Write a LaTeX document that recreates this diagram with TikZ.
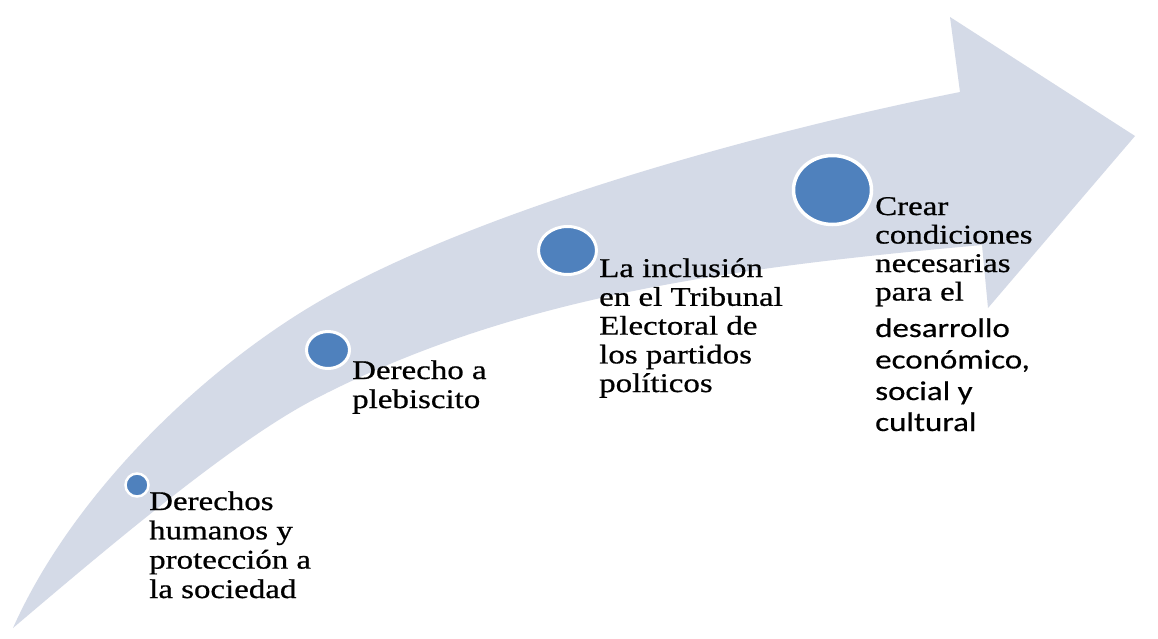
\documentclass[tikz,border=0pt]{standalone}
\usepackage{fontspec}
\setmainfont[FakeStretch=1.22,FakeBold=0.7]{Liberation Serif}
\newfontfamily\sansf[FakeStretch=1.22,FakeBold=0.4]{Carlito}
\definecolor{band}{HTML}{D4DAE7}
\definecolor{dot}{HTML}{4F81BD}
\usetikzlibrary{shapes.geometric}
\begin{document}
\begin{tikzpicture}[x=1pt,y=-1pt,
  dotnode/.style={ellipse, fill=dot, draw=white, line width=3pt, inner sep=0pt},
  lbl/.style={anchor=base west, inner sep=0pt, font=\fontsize{27}{29}\selectfont, text=black},
  slbl/.style={lbl, font=\fontsize{27}{29}\sansf}]
\useasboundingbox (0,0) rectangle (1158,638);
\fill[white] (0,0) rectangle (1158,638);
% curved arrow
\fill[band] (13,628) .. controls (70,500) and (190,382) .. (300,313)
  .. controls (450,218.5) and (740,136) .. (960,92)
  -- (950,17) -- (1135,136) -- (988,308) -- (982,245)
  .. controls (732,267.5) and (513,296) .. (313,400)
  .. controls (233,442) and (113,543) .. (13,628) -- cycle;
% dots
\node[dotnode, minimum width=23pt, minimum height=23pt, line width=2.5pt] (c1) at (137,485) {};
\node[dotnode, minimum width=43pt, minimum height=37pt] (c2) at (328,350) {};
\node[dotnode, minimum width=58pt, minimum height=48pt] (c3) at (567.5,250.5) {};
\node[dotnode, minimum width=78pt, minimum height=69pt, line width=3.5pt] (c4) at (832.5,190) {};
% text 1
\node[lbl] (t1a) at (149,510) {Derechos};
\node[lbl] (t1b) at (149,539.3) {humanos y};
\node[lbl] (t1c) at (149,568.6) {protección a};
\node[lbl] (t1d) at (149,598) {la sociedad};
% text 2
\node[lbl] (t2a) at (352,379) {Derecho a};
\node[lbl] (t2b) at (352,408) {plebiscito};
% text 3
\node[lbl] (t3a) at (599,277) {La inclusión};
\node[lbl] (t3b) at (599,305.8) {en el Tribunal};
\node[lbl] (t3c) at (599,334.6) {Electoral de};
\node[lbl] (t3d) at (599,363.4) {los partidos};
\node[lbl] (t3e) at (599,392) {políticos};
% text 4
\node[lbl] (t4a) at (875,215) {Crear};
\node[lbl] (t4b) at (875,243.5) {condiciones};
\node[lbl] (t4c) at (875,272) {necesarias};
\node[lbl] (t4d) at (875,300.5) {para el};
\node[slbl] (t4e) at (875,337) {desarrollo};
\node[slbl] (t4f) at (875,368.5) {económico,};
\node[slbl] (t4g) at (875,400) {social y};
\node[slbl] (t4h) at (875,431) {cultural};
\end{tikzpicture}
\end{document}
